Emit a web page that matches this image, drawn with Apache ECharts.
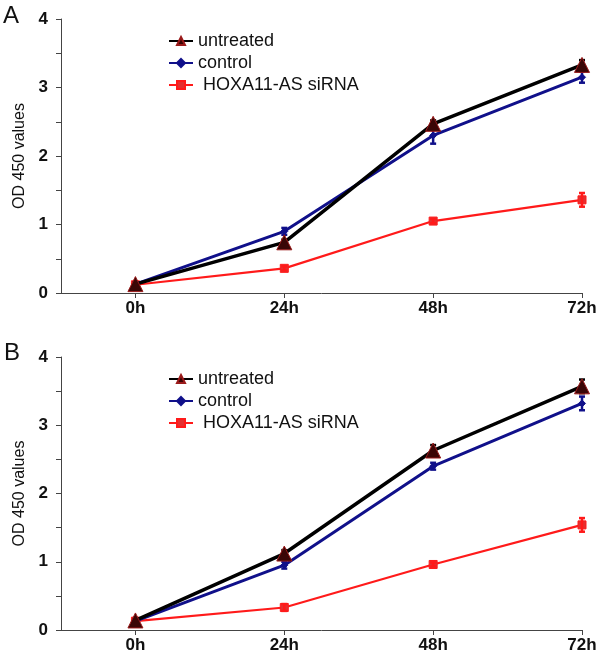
<!DOCTYPE html>
<html>
<head>
<meta charset="utf-8">
<script src="https://cdn.jsdelivr.net/npm/echarts@6/dist/echarts.min.js"></script>
<style>
  html, body { margin: 0; padding: 0; background: #fff; }
  #chart { width: 605px; height: 654px; }
</style>
</head>
<body>
<div id="chart"></div>
<script>
// time points (hours) and tick labels
var hours = [0, 24, 48, 72];
var seriesNames = ["untreated", "control", "HOXA11-AS siRNA"];

// panel A
var aUntreated = [0.13, 0.74, 2.47, 3.33];
var aControl = [0.13, 0.90, 2.30, 3.15];
var aSirna = [0.12, 0.36, 1.05, 1.36];
var aUntreatedErr = [0.02, 0.04, 0.05, 0.07];
var aControlErr = [0.02, 0.05, 0.12, 0.08];
var aSirnaErr = [0.02, 0.03, 0.03, 0.10];

// panel B
var bUntreated = [0.14, 1.12, 2.63, 3.57];
var bControl = [0.13, 0.95, 2.40, 3.32];
var bSirna = [0.13, 0.33, 0.96, 1.54];
var bUntreatedErr = [0.02, 0.05, 0.08, 0.10];
var bControlErr = [0.02, 0.05, 0.05, 0.10];
var bSirnaErr = [0.02, 0.05, 0.03, 0.10];

var colors = ["#000000", "#10108a", "#ff1a1a"];
var styles = [
  { symbol: "triangle", symbolSize: 15, width: 3.5, fill: "#3a0606", border: "#9a1a1a" },
  { symbol: "diamond", symbolSize: 7, width: 3, fill: "#10108a", border: "#10108a" },
  { symbol: "rect", symbolSize: 8, width: 2.2, fill: "#e43030", border: "#ff1a1a" }
];

var FONT = "Liberation Sans, Arial, sans-serif";

function pairs(vals) {
  return hours.map(function (h, i) { return [h, vals[i]]; });
}
function errPairs(vals, errs) {
  return hours.map(function (h, i) { return [h, vals[i] - errs[i], vals[i] + errs[i]]; });
}

function errorBar(color) {
  return function (params, api) {
    var lo = api.coord([api.value(0), api.value(1)]);
    var hi = api.coord([api.value(0), api.value(2)]);
    var w = 3;
    var st = { stroke: color, lineWidth: 2.5 };
    return {
      type: "group",
      children: [
        { type: "line", shape: { x1: lo[0], y1: lo[1], x2: hi[0], y2: hi[1] }, style: st },
        { type: "line", shape: { x1: lo[0] - w, y1: lo[1], x2: lo[0] + w, y2: lo[1] }, style: st },
        { type: "line", shape: { x1: hi[0] - w, y1: hi[1], x2: hi[0] + w, y2: hi[1] }, style: st }
      ]
    };
  };
}

var panels = [
  { vals: [aUntreated, aControl, aSirna], errs: [aUntreatedErr, aControlErr, aSirnaErr] },
  { vals: [bUntreated, bControl, bSirna], errs: [bUntreatedErr, bControlErr, bSirnaErr] }
];

var grids = [
  { left: 61, width: 521, top: 19, height: 274 },
  { left: 61, width: 521, top: 357, height: 275 }
];

var axisFont = { fontFamily: FONT, fontSize: 17, fontWeight: "bold", color: "#111" };

var xAxes = grids.map(function (g, i) {
  return {
    type: "value", gridIndex: i, min: -12, max: 72,
    splitLine: { show: false },
    axisLine: { onZero: false, lineStyle: { color: "#444", width: 1 } },
    axisTick: { customValues: hours, length: 5, lineStyle: { color: "#444" } },
    axisLabel: Object.assign({ customValues: hours, margin: 7, formatter: function (v) { return v + "h"; } }, axisFont)
  };
});
var yAxes = grids.map(function (g, i) {
  return {
    type: "value", gridIndex: i, min: 0, max: 4, interval: 0.5,
    name: "OD 450 values", nameLocation: "middle", nameGap: 33,
    nameTextStyle: { fontFamily: FONT, fontSize: 16, color: "#111" },
    splitLine: { show: false },
    axisLine: { show: true, onZero: false, lineStyle: { color: "#444", width: 1 } },
    axisTick: { show: true, length: 5, lineStyle: { color: "#444" } },
    axisLabel: Object.assign({ margin: 13, formatter: function (v) { return v % 1 === 0 ? v : ""; } }, axisFont)
  };
});

var series = [];
panels.forEach(function (p, pi) {
  for (var s = 0; s < 3; s++) {
    series.push({
      type: "custom", xAxisIndex: pi, yAxisIndex: pi, z: 3,
      renderItem: errorBar(colors[s]),
      data: errPairs(p.vals[s], p.errs[s]),
      encode: { x: 0, y: [1, 2] },
      silent: true
    });
  }
  for (var t = 0; t < 3; t++) {
    var st = styles[t];
    series.push({
      name: seriesNames[t], type: "line", xAxisIndex: pi, yAxisIndex: pi,
      data: pairs(p.vals[t]),
      symbol: st.symbol, symbolSize: st.symbolSize, showAllSymbol: true,
      lineStyle: { color: colors[t], width: st.width },
      itemStyle: { color: st.fill, borderColor: st.border, borderWidth: 1 },
      z: 4 - t
    });
  }
});

function legendAt(top) {
  return {
    top: top, left: 163, orient: "vertical",
    data: seriesNames, itemWidth: 24, itemHeight: 10, itemGap: 4,
    selectedMode: false,
    textStyle: { fontFamily: FONT, fontSize: 18, color: "#111", padding: [0, 0, 0, 0] },
    formatter: function (n) { return n === "HOXA11-AS siRNA" ? " " + n : n; }
  };
}

var chart = echarts.init(document.getElementById("chart"), null, { renderer: "canvas" });
chart.setOption({
  animation: false,
  backgroundColor: "#fff",
  grid: grids,
  xAxis: xAxes,
  yAxis: yAxes,
  legend: [legendAt(27), legendAt(365)],
  graphic: [
    { type: "text", left: 3, top: 4, style: { text: "A", fontFamily: FONT, fontSize: 24, fill: "#111" } },
    { type: "text", left: 4, top: 341, style: { text: "B", fontFamily: FONT, fontSize: 24, fill: "#111" } }
  ],
  series: series
});
</script>
</body>
</html>
